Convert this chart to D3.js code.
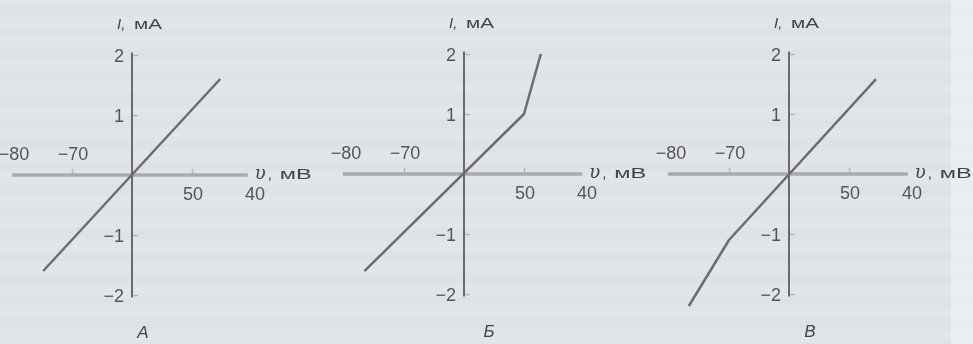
<!DOCTYPE html>
<html>
<head>
<meta charset="utf-8">
<script src="https://cdn.jsdelivr.net/npm/d3@7"></script>
<style>
  html, body { margin: 0; padding: 0; background: #e3e7eb; }
  svg { display: block; }
  text { font-family: "Liberation Sans", Arial, sans-serif; }
  text.serif-i { font-family: "DejaVu Serif", "Liberation Serif", serif; font-style: italic; }
</style>
</head>
<body>
<svg id="chart" width="973" height="344"></svg>
<script>
// Current–voltage curves for three membranes (A, Б, В)
const panelNames = ["A", "Б", "В"];

// Voltage (axis units) and current (мА) at the line's vertices
const voltsA   = [-1.48, 1.47];
const currentA = [-1.6, 1.6];
const voltsB   = [-1.66, 1.0, 1.28];
const currentB = [-1.62, 1.0, 2.0];
const voltsC   = [-1.67, -1.0, 1.45];
const currentC = [-2.2, -1.1, 1.58];

// Axis tick positions and their printed labels
const xTickValues = [-1, 1];
const xLabelPos   = [-2, -1, 1, 2];
const xLabels     = ["\u221280", "\u221270", "50", "40"];
const yTickValues = [-2, -1, 1, 2];
const yLabels     = ["\u22122", "\u22121", "1", "2"];

const series = [
  { v: voltsA, i: currentA },
  { v: voltsB, i: currentB },
  { v: voltsC, i: currentC }
];

// Panel layout: origin of each coordinate cross and label offset
const layout = [
  { ox: 132, oy: 175, xmin: -2.0, xmax: 1.93, nameDx: 11 },
  { ox: 464, oy: 174, xmin: -2.02, xmax: 1.97, nameDx: 25 },
  { ox: 789, oy: 174, xmin: -2.02, xmax: 1.98, nameDx: 21 }
];

const svg = d3.select("#chart");
const W = 973, H = 344;
const unit = 60;

// faint printed-page texture: soft bands where lines of text show through
const defs = svg.append("defs");
defs.append("filter").attr("id", "soft")
  .append("feGaussianBlur").attr("stdDeviation", 3);
const bandRows = d3.range(4, H, 22.5);
svg.append("g").attr("filter", "url(#soft)")
  .selectAll("rect").data(bandRows).join("rect")
  .attr("x", -10).attr("y", d => d).attr("width", W + 20).attr("height", 11)
  .attr("fill", "#8a9096").attr("opacity", 0.06);
svg.append("rect").attr("x", W - 22).attr("y", 0).attr("width", 22).attr("height", H)
  .attr("fill", "#f0f4f8").attr("opacity", 0.6);

layout.forEach((L, p) => {
  const g = svg.append("g");
  const x = d3.scaleLinear().domain([-2, 2]).range([L.ox - 2 * unit, L.ox + 2 * unit]);
  const y = d3.scaleLinear().domain([-2, 2]).range([L.oy + 2 * unit, L.oy - 2 * unit]);

  // horizontal voltage axis: thick light rule with short ticks above it
  const xAxis = d3.axisBottom(x).tickValues(xTickValues).tickSizeInner(-6)
    .tickSizeOuter(0).tickFormat("");
  const gx = g.append("g").attr("transform", `translate(0,${y(0)})`).call(xAxis);
  gx.select(".domain").remove();
  gx.selectAll(".tick line").attr("stroke", "#b4b6b8").attr("stroke-width", 1.5);
  g.append("line")
    .attr("x1", x(L.xmin)).attr("x2", x(L.xmax))
    .attr("y1", y(0)).attr("y2", y(0))
    .attr("stroke", "#a9abad").attr("stroke-width", 3.5);

  // vertical current axis with ticks to the right and labels to the left
  const yAxis = d3.axisLeft(y).tickValues(yTickValues).tickSizeInner(-6)
    .tickSizeOuter(0).tickPadding(8)
    .tickFormat((d, k) => yLabels[k]);
  const gy = g.append("g").attr("transform", `translate(${x(0)},0)`).call(yAxis);
  gy.select(".domain").remove();
  gy.selectAll(".tick line").attr("stroke", "#b4b6b8").attr("stroke-width", 1.5);
  gy.selectAll(".tick text").attr("font-size", 18).attr("fill", "#555")
    .attr("dy", "0.36em");
  g.append("line")
    .attr("x1", x(0)).attr("x2", x(0))
    .attr("y1", y(2.04)).attr("y2", y(-2.04))
    .attr("stroke", "#6b6b6b").attr("stroke-width", 2);

  // voltage labels: negative ones above the axis, positive ones below
  g.selectAll("text.xl").data(xLabels).join("text")
    .attr("class", "xl")
    .attr("x", (d, k) => x(xLabelPos[k]) + (k === 0 ? 2 : k === 3 ? 3 : 1))
    .attr("y", (d, k) => k < 2 ? y(0) - 15 : y(0) + 25)
    .attr("text-anchor", "middle")
    .attr("font-size", 18)
    .attr("fill", "#555")
    .text(d => d);

  // voltage axis title: italic υ, then a wide "мВ"
  const vx = x(L.xmax) + 7, vy = y(0) + 4;
  g.append("text").attr("class", "serif-i").attr("x", vx).attr("y", vy)
    .attr("font-size", 18).attr("fill", "#444").text("υ");
  g.append("text").attr("x", vx + 13).attr("y", vy)
    .attr("font-size", 15).attr("fill", "#444").text(",");
  g.append("text").attr("x", vx + 25).attr("y", vy)
    .attr("font-size", 14).attr("fill", "#444")
    .attr("textLength", 32).attr("lengthAdjust", "spacingAndGlyphs").text("мВ");

  // current axis title: italic I, then a wide "мА"
  const ix = x(0) - 15, iy = y(2) - 26;
  g.append("text").attr("x", ix).attr("y", iy)
    .attr("font-size", 15).attr("font-style", "italic").attr("fill", "#444").text("I,");
  g.append("text").attr("x", ix + 17).attr("y", iy)
    .attr("font-size", 14).attr("fill", "#444")
    .attr("textLength", 28).attr("lengthAdjust", "spacingAndGlyphs").text("мА");

  // panel letter
  g.append("text")
    .attr("x", x(0) + L.nameDx).attr("y", y(-2) + 43)
    .attr("text-anchor", "middle").attr("font-size", 17)
    .attr("font-style", "italic").attr("fill", "#444")
    .text(panelNames[p]);

  // I–V line
  const s = series[p];
  const pts = s.v.map((v, k) => [v, s.i[k]]);
  g.append("path")
    .datum(pts)
    .attr("d", d3.line().x(d => x(d[0])).y(d => y(d[1])))
    .attr("fill", "none")
    .attr("stroke", "#6d6d6d")
    .attr("stroke-width", 2.5)
    .attr("stroke-linejoin", "round");
});
</script>
</body>
</html>
